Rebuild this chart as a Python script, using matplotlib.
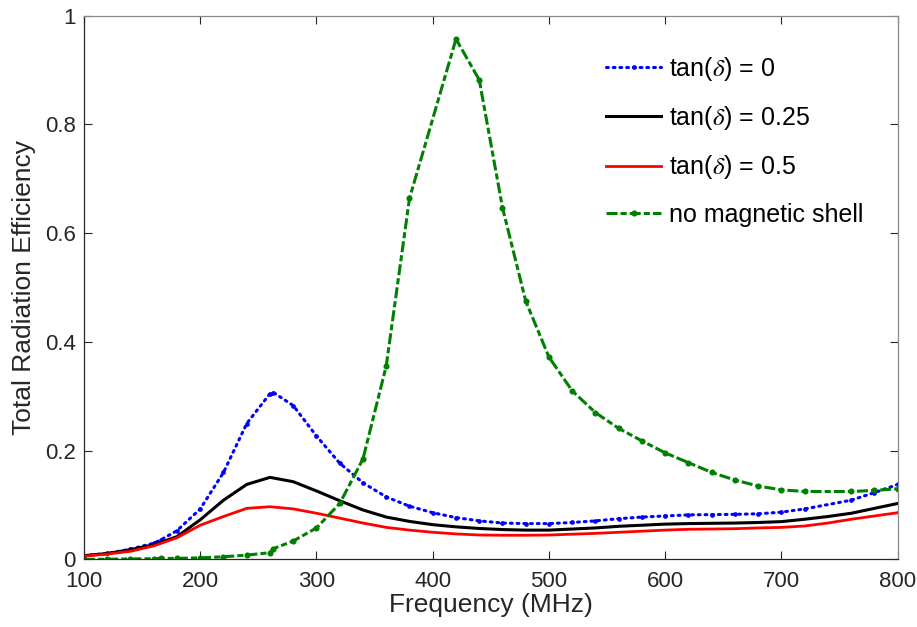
import matplotlib
matplotlib.use("Agg")
import matplotlib.pyplot as plt

# Frequency grids (MHz)
freq_fine = [100, 120, 140, 160, 166, 180, 200, 220, 240, 260, 263, 280, 300,
             320, 340, 360, 380, 400, 420, 440, 460, 480, 500, 520, 540, 560,
             580, 600, 620, 640, 660, 680, 700, 720, 760, 780, 800]
freq_green = [100, 120, 140, 160, 166, 180, 200, 220, 240, 260, 263, 280, 300,
              320, 340, 360, 380, 420, 440, 460, 480, 500, 520, 540, 560,
              580, 600, 620, 640, 660, 680, 700, 720, 760, 780, 800]
freq_step = list(range(100, 801, 20))

# Total radiation efficiency
eff_tan0 = [0.007, 0.011, 0.019, 0.030, 0.036, 0.053, 0.093, 0.160, 0.250,
            0.305, 0.307, 0.283, 0.227, 0.177, 0.141, 0.115, 0.098, 0.086,
            0.077, 0.071, 0.067, 0.066, 0.066, 0.068, 0.071, 0.075, 0.078,
            0.080, 0.082, 0.0825, 0.083, 0.084, 0.087, 0.093, 0.109, 0.123,
            0.138]
eff_tan025 = [0.007, 0.011, 0.018, 0.027, 0.042, 0.073, 0.109, 0.138, 0.151,
              0.143, 0.126, 0.108, 0.091, 0.078, 0.070, 0.064, 0.060, 0.057,
              0.055, 0.054, 0.054, 0.056, 0.058, 0.061, 0.063, 0.065, 0.066,
              0.0665, 0.067, 0.068, 0.0696, 0.074, 0.079, 0.085, 0.094, 0.103]
eff_tan05 = [0.006, 0.010, 0.015, 0.025, 0.040, 0.063, 0.079, 0.094, 0.097,
             0.093, 0.085, 0.076, 0.067, 0.059, 0.054, 0.050, 0.047, 0.045,
             0.0445, 0.0445, 0.045, 0.0465, 0.048, 0.050, 0.052, 0.054,
             0.0555, 0.056, 0.0566, 0.058, 0.059, 0.0616, 0.067, 0.074,
             0.080, 0.086]
eff_noshell = [0.0, 0.0005, 0.001, 0.0015, 0.002, 0.002, 0.003, 0.005, 0.008,
               0.0125, 0.020, 0.034, 0.058, 0.103, 0.185, 0.356, 0.664, 0.957,
               0.882, 0.647, 0.475, 0.372, 0.310, 0.270, 0.241, 0.218, 0.196,
               0.178, 0.160, 0.146, 0.135, 0.128, 0.125, 0.125, 0.127, 0.130]

x_ticks = [100, 200, 300, 400, 500, 600, 700, 800]
y_ticks = [0, 0.2, 0.4, 0.6, 0.8, 1]
y_ticklabels = ["0", "0.2", "0.4", "0.6", "0.8", "1"]

plt.rcParams.update({
    "font.family": ["Liberation Sans", "DejaVu Sans"],
    "mathtext.fontset": "stix",
})

dark = "#262626"
fig = plt.figure(figsize=(9.17, 6.27), dpi=100)
ax = fig.add_axes([0.0916, 0.1077, 0.8874, 0.8673])

ax.plot(freq_fine, eff_tan0, color="#0000FF", linestyle=(0, (0.6, 1.6)),
        dash_capstyle="round", linewidth=2.2, marker="o", markersize=3.4,
        markeredgewidth=0, label=r"tan($\delta$) = 0")
ax.plot(freq_step, eff_tan025, color="black", linewidth=2.2,
        label=r"tan($\delta$) = 0.25")
ax.plot(freq_step, eff_tan05, color="#FF0000", linewidth=2.0,
        label=r"tan($\delta$) = 0.5")
ax.plot(freq_green, eff_noshell, color="#008000", linestyle=(0, (3.6, 1.0, 2.0, 1.0)),
        linewidth=2.2, marker="o", markersize=4.4, markeredgewidth=0,
        label="no magnetic shell")

ax.set_xlim(100, 800)
ax.set_ylim(0, 1)
ax.set_xticks(x_ticks)
ax.set_yticks(y_ticks)
ax.set_yticklabels(y_ticklabels)
ax.tick_params(direction="in", length=5.8, width=0.8, top=True, right=True,
               labelsize=16, colors=dark)
ax.tick_params(axis="x", pad=8)
ax.tick_params(axis="y", pad=6)

for side in ("left", "bottom"):
    ax.spines[side].set_color(dark)
    ax.spines[side].set_linewidth(0.9)
for side in ("top", "right"):
    ax.spines[side].set_color("#8a8a8a")
    ax.spines[side].set_linewidth(0.9)

ax.set_xlabel("Frequency (MHz)", fontsize=19, color=dark, labelpad=1)
ax.set_ylabel("Total Radiation Efficiency", fontsize=19, color=dark, labelpad=6)

ax.legend(loc="upper left", bbox_to_anchor=(0.6415, 0.928), frameon=False,
          fontsize=18, handlelength=2.2, handletextpad=0.3, labelspacing=0.85,
          borderpad=0, borderaxespad=0, numpoints=1)

fig.savefig("out.png", dpi=100)
